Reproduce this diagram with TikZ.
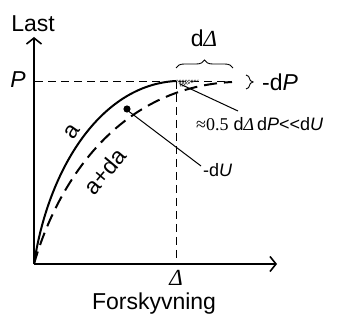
\documentclass[tikz,border=0pt]{standalone}
\usepackage{fontspec}
\setmainfont{Liberation Sans}
\newfontfamily\serifD{Liberation Serif}
\usetikzlibrary{arrows.meta,decorations.pathreplacing,patterns}
\newcommand{\Dl}{{\serifD\itshape Δ}}
\begin{document}
\begin{tikzpicture}[x=1pt,y=-1pt,
  lbl/.style={font=\fontsize{23}{26}\selectfont, inner sep=0pt},
  slbl/.style={font=\fontsize{18}{21}\selectfont, inner sep=0pt},
  axis/.style={line width=1.6pt, -{Straight Barb[length=6pt,width=15pt,line width=1.6pt]}},
  guide/.style={line width=0.9pt, dash pattern=on 8pt off 5pt},
  curveA/.style={line width=2pt},
  curveB/.style={line width=2pt, dash pattern=on 13pt off 7pt},
  leader/.style={line width=1pt},
  brc/.style={line width=0.9pt, decorate, decoration={brace, amplitude=8pt}}]
\useasboundingbox (0,0) rectangle (345,320);
% axes
\coordinate (O) at (34,264);
\coordinate (ytop) at (34,37);
\coordinate (xend) at (277,264);
\draw[axis] (O) -- (ytop);
\draw[axis] (O) -- (xend);
% guides
\coordinate (PL) at (35,81);
\coordinate (PR) at (232,81);
\coordinate (peak) at (176,81);
\coordinate (Dbot) at (176,264);
\draw[guide] (PL) -- (PR);
\draw[guide] (peak) -- (Dbot);
% hatched triangle
\coordinate (t1) at (176,80);
\coordinate (t2) at (199,80);
\coordinate (t3) at (181,87);
\fill[pattern=crosshatch, pattern color=black!70] (t1) -- (t2) -- (t3) -- cycle;
% curves
\draw[curveA] (O) .. controls (48,170) and (100,85) .. (peak);
\coordinate (Bend) at (232,82);
\draw[curveB] (O) .. controls (55,190) and (113,88) .. (Bend);
% dot
\fill (127,109) circle (3.6pt);
% leaders
\coordinate (L1s) at (127,110);
\coordinate (L1e) at (201,166);
\draw[leader] (L1s) -- (L1e);
\coordinate (L2s) at (180,84);
\coordinate (L2e) at (238,111);
\draw[leader] (L2s) -- (L2e);
% braces
\coordinate (b1l) at (176,68);
\coordinate (b1r) at (233,68);
\draw[brc] (b1l) -- (b1r);
\coordinate (b2t) at (246,75);
\coordinate (b2b) at (246,89);
\draw[brc, decoration={brace, amplitude=7pt}] (b2t) -- (b2b);
% labels
\node[lbl] (last) at (33,24) {Last};
\node[lbl] (Plab) at (18,80) {\itshape P};
\node[lbl] (dD) at (204,38) {d\Dl};
\node[lbl, anchor=west] (mdP) at (262,82) {-d\textit{P}};
\node[slbl, anchor=west] (approx) at (196,124) {{\serifD ≈0.5} d\Dl\,d\textit{P}{<}{<}d\textit{U}};
\node[slbl, anchor=west] (mdU) at (203,170) {-d\textit{U}};
\node[lbl, rotate=55] (alab) at (72,132) {a};
\node[lbl, rotate=50] (adlab) at (105,171) {a+da};
\node[lbl] (Dlab) at (176,278) {\Dl};
\node[lbl] (fors) at (154,304) {Forskyvning};
\end{tikzpicture}
\end{document}
